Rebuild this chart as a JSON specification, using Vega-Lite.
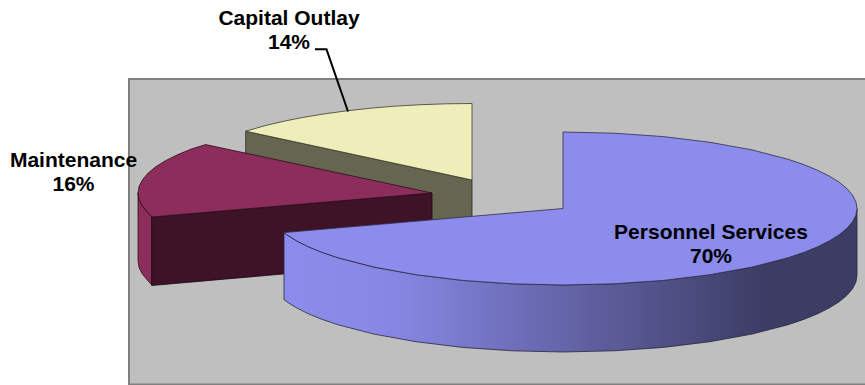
{
  "$schema": "https://vega.github.io/schema/vega-lite/v6.json",
  "width": 865,
  "height": 385,
  "padding": 0,
  "autosize": "none",
  "background": "#ffffff",
  "view": {"stroke": null},
  "datasets": {
    "plotArea": [{"x": 129, "x2": 868, "y": 79, "y2": 384.5}],
    "creamTop": [
      {"i":0,"x":472,"y":180},{"i":1,"x":245.7,"y":131.2},{"i":2,"x":264.1,"y":125.9},{"i":3,"x":283,"y":121.4},{"i":4,"x":303.4,"y":117.3},{"i":5,"x":325,"y":113.8},{"i":6,"x":347.8,"y":110.7},{"i":7,"x":371.5,"y":108.1},{"i":8,"x":395.9,"y":106.1},{"i":9,"x":421,"y":104.7},{"i":10,"x":446.4,"y":103.8},{"i":11,"x":472,"y":103.5},{"i":12,"x":472,"y":180}
    ],
    "creamFront": [
      {"i":0,"x":245.7,"y":131.2},{"i":1,"x":472,"y":180},{"i":2,"x":472,"y":247},{"i":3,"x":245.7,"y":198},{"i":4,"x":245.7,"y":131.2}
    ],
    "maroonRim": [
      {"i":0,"x":151.7,"y":216.5},{"i":1,"x":148,"y":212.8},{"i":2,"x":142.5,"y":206.3},{"i":3,"x":139.1,"y":199.7},{"i":4,"x":138,"y":193},
      {"i":5,"x":138,"y":261},{"i":6,"x":139.1,"y":267.7},{"i":7,"x":142.5,"y":274.3},{"i":8,"x":148,"y":280.8},{"i":9,"x":151.7,"y":285},{"i":10,"x":151.7,"y":216.5}
    ],
    "maroonFront": [
      {"i":0,"x":151.7,"y":217},{"i":1,"x":432,"y":193},{"i":2,"x":432,"y":261},{"i":3,"x":151.7,"y":285.5},{"i":4,"x":151.7,"y":217}
    ],
    "maroonTop": [
      {"i":0,"x":432,"y":193},{"i":1,"x":151.7,"y":217},{"i":2,"x":148,"y":212.8},{"i":3,"x":142.5,"y":206.3},{"i":4,"x":139.1,"y":199.7},{"i":5,"x":138,"y":193},{"i":6,"x":139.1,"y":186.3},{"i":7,"x":142.5,"y":179.7},{"i":8,"x":148,"y":173.2},{"i":9,"x":155.7,"y":166.8},{"i":10,"x":165.5,"y":160.7},{"i":11,"x":177.4,"y":154.8},{"i":12,"x":191.2,"y":149.1},{"i":13,"x":205.7,"y":144.6},{"i":14,"x":432,"y":193}
    ],
    "blueRim": [
      {"i":0,"x":857,"y":208.5},{"i":1,"x":855.9,"y":215.2},{"i":2,"x":852.5,"y":221.8},{"i":3,"x":847,"y":228.3},{"i":4,"x":839.3,"y":234.7},{"i":5,"x":829.5,"y":240.8},{"i":6,"x":817.6,"y":246.8},{"i":7,"x":803.8,"y":252.4},{"i":8,"x":788.2,"y":257.7},{"i":9,"x":752,"y":267.1},{"i":10,"x":710,"y":274.7},{"i":11,"x":663.5,"y":280.4},{"i":12,"x":614,"y":283.8},{"i":13,"x":563,"y":285},{"i":14,"x":512,"y":283.8},{"i":15,"x":462.5,"y":280.4},{"i":16,"x":416,"y":274.7},{"i":17,"x":374,"y":267.1},{"i":18,"x":337.8,"y":257.7},{"i":19,"x":322.2,"y":252.4},{"i":20,"x":308.4,"y":246.8},{"i":21,"x":296.5,"y":240.8},{"i":22,"x":286.7,"y":234.7},{"i":23,"x":284,"y":232.6},
      {"i":24,"x":284,"y":299.6},{"i":25,"x":286.7,"y":301.7},{"i":26,"x":296.5,"y":307.8},{"i":27,"x":308.4,"y":313.8},{"i":28,"x":322.2,"y":319.4},{"i":29,"x":337.8,"y":324.7},{"i":30,"x":374,"y":334.1},{"i":31,"x":416,"y":341.7},{"i":32,"x":462.5,"y":347.4},{"i":33,"x":512,"y":350.8},{"i":34,"x":563,"y":352},{"i":35,"x":614,"y":350.8},{"i":36,"x":663.5,"y":347.4},{"i":37,"x":710,"y":341.7},{"i":38,"x":752,"y":334.1},{"i":39,"x":788.2,"y":324.7},{"i":40,"x":803.8,"y":319.4},{"i":41,"x":817.6,"y":313.8},{"i":42,"x":829.5,"y":307.8},{"i":43,"x":839.3,"y":301.7},{"i":44,"x":847,"y":295.3},{"i":45,"x":852.5,"y":288.8},{"i":46,"x":855.9,"y":282.2},{"i":47,"x":857,"y":275.5},{"i":48,"x":857,"y":208.5}
    ],
    "blueTop": [
      {"i":0,"x":563,"y":208.5},{"i":1,"x":563,"y":132},{"i":2,"x":614,"y":133.2},{"i":3,"x":663.5,"y":136.6},{"i":4,"x":710,"y":142.3},{"i":5,"x":752,"y":149.9},{"i":6,"x":788.2,"y":159.3},{"i":7,"x":803.8,"y":164.6},{"i":8,"x":817.6,"y":170.3},{"i":9,"x":829.5,"y":176.2},{"i":10,"x":839.3,"y":182.3},{"i":11,"x":847,"y":188.7},{"i":12,"x":852.5,"y":195.2},{"i":13,"x":855.9,"y":201.8},{"i":14,"x":857,"y":208.5},{"i":15,"x":855.9,"y":215.2},{"i":16,"x":852.5,"y":221.8},{"i":17,"x":847,"y":228.3},{"i":18,"x":839.3,"y":234.7},{"i":19,"x":829.5,"y":240.8},{"i":20,"x":817.6,"y":246.8},{"i":21,"x":803.8,"y":252.4},{"i":22,"x":788.2,"y":257.7},{"i":23,"x":752,"y":267.1},{"i":24,"x":710,"y":274.7},{"i":25,"x":663.5,"y":280.4},{"i":26,"x":614,"y":283.8},{"i":27,"x":563,"y":285},{"i":28,"x":512,"y":283.8},{"i":29,"x":462.5,"y":280.4},{"i":30,"x":416,"y":274.7},{"i":31,"x":374,"y":267.1},{"i":32,"x":337.8,"y":257.7},{"i":33,"x":322.2,"y":252.4},{"i":34,"x":308.4,"y":246.8},{"i":35,"x":296.5,"y":240.8},{"i":36,"x":286.7,"y":234.7},{"i":37,"x":284,"y":232.6},{"i":38,"x":563,"y":208.5}
    ],
    "leader": [
      {"i":0,"x":315,"y":49.3},{"i":1,"x":326.5,"y":49.3},{"i":2,"x":348,"y":111.5}
    ],
    "labels": [
      {"x":289,"y":19,"label":"Capital Outlay\n14%"},
      {"x":73.5,"y":161,"label":"Maintenance\n16%"},
      {"x":711,"y":233,"label":"Personnel Services\n70%"}
    ]
  },
  "encoding": {
    "x": {"field": "x", "type": "quantitative", "scale": {"domain": [0, 865], "nice": false, "zero": false}, "axis": null},
    "y": {"field": "y", "type": "quantitative", "scale": {"domain": [385, 0], "nice": false, "zero": false}, "axis": null},
    "order": {"field": "i", "type": "quantitative"}
  },
  "layer": [
    {
      "data": {"name": "plotArea"},
      "mark": {"type": "rect", "fill": "#bfbfbf", "stroke": "#808080", "strokeWidth": 2},
      "encoding": {"x2": {"field": "x2"}, "y2": {"field": "y2"}, "order": {"value": null}}
    },
    {
      "data": {"name": "creamFront"},
      "mark": {"type": "line", "fill": "#666650", "stroke": "#2a2a20", "strokeWidth": 0.8, "interpolate": "linear"}
    },
    {
      "data": {"name": "creamTop"},
      "mark": {"type": "line", "fill": "#eeeebb", "stroke": "#3a3a30", "strokeWidth": 0.8, "interpolate": "linear"}
    },
    {
      "data": {"name": "maroonRim"},
      "mark": {"type": "line", "fill": "#8c2d5c", "stroke": "#2c0e1c", "strokeWidth": 0.8, "interpolate": "linear"}
    },
    {
      "data": {"name": "maroonFront"},
      "mark": {"type": "line", "fill": "#3e1327", "stroke": "#1c0812", "strokeWidth": 0.8, "interpolate": "linear"}
    },
    {
      "data": {"name": "maroonTop"},
      "mark": {"type": "line", "fill": "#8c2d5c", "stroke": "#2c0e1c", "strokeWidth": 0.8, "interpolate": "linear"}
    },
    {
      "data": {"name": "blueRim"},
      "mark": {
        "type": "line",
        "stroke": "#26263f",
        "strokeWidth": 0.8,
        "interpolate": "linear",
        "fill": {
          "gradient": "linear", "x1": 0, "y1": 0, "x2": 1, "y2": 0,
          "stops": [
            {"offset": 0, "color": "#8c8cec"},
            {"offset": 0.2, "color": "#8686e2"},
            {"offset": 0.84, "color": "#3c3c64"},
            {"offset": 1, "color": "#3c3c64"}
          ]
        }
      }
    },
    {
      "data": {"name": "blueTop"},
      "mark": {"type": "line", "fill": "#8c8cec", "stroke": "#2c2c4a", "strokeWidth": 0.8, "interpolate": "linear"}
    },
    {
      "data": {"name": "leader"},
      "mark": {"type": "line", "stroke": "#000000", "strokeWidth": 2, "interpolate": "linear"}
    },
    {
      "data": {"name": "labels"},
      "mark": {"type": "text", "font": "Liberation Sans", "fontWeight": "bold", "fontSize": 21, "lineHeight": 24, "lineBreak": "\n", "align": "center", "baseline": "middle", "color": "#000000"},
      "encoding": {"text": {"field": "label"}, "order": {"value": null}}
    }
  ]
}
